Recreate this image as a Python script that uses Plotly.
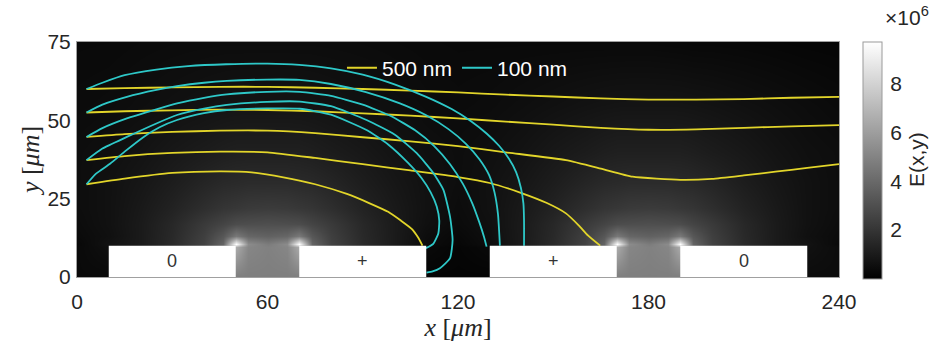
import plotly.graph_objects as go

# ---------------- data ----------------
# Electric field magnitude E(x,y) in units of 1e6
HEAT_X = [0, 10, 20, 30, 40, 46, 50, 54, 60, 66, 70, 74, 80, 90, 100, 110, 120,
          130, 140, 150, 160, 166, 170, 174, 180, 186, 190, 194, 200, 210, 220, 230, 240]
HEAT_Y = [0, 9.5, 10.5, 13, 17, 22, 30, 40, 55, 75]
E_FIELD = [
    [0.35, 0.35, 0.3, 0.3, 4.8, 4.8, 4.8, 4.8, 4.8, 4.8, 4.8, 4.8, 0.3, 0.3, 0.3, 0.15, 0.15, 0.15, 0.3, 0.3, 4.8, 4.8, 4.8, 4.8, 4.8, 4.8, 4.8, 4.8, 0.3, 0.3, 0.4, 0.45, 0.45],
    [0.35, 0.6, 1.0, 1.6, 2.5, 3.8, 6.5, 5.1, 4.9, 5.1, 6.5, 3.8, 2.5, 1.6, 1.0, 0.35, 0.2, 0.35, 1.0, 1.6, 2.5, 3.8, 6.5, 5.1, 4.9, 5.1, 6.5, 3.8, 2.5, 1.6, 1.0, 0.65, 0.45],
    [0.3, 0.7, 1.0, 1.6, 2.5, 3.8, 9.7, 5.3, 4.7, 5.3, 9.7, 3.8, 2.5, 1.6, 1.0, 0.45, 0.25, 0.5, 1.0, 1.6, 2.5, 3.8, 9.7, 5.3, 4.7, 5.3, 9.7, 3.8, 2.5, 1.6, 1.0, 0.7, 0.35],
    [0.4, 0.6, 1.0, 1.55, 2.4, 3.3, 4.6, 3.9, 3.7, 3.9, 4.6, 3.3, 2.4, 1.55, 1.0, 0.5, 0.3, 0.55, 1.0, 1.55, 2.4, 3.3, 4.6, 3.9, 3.7, 3.9, 4.6, 3.3, 2.4, 1.55, 1.0, 0.6, 0.4],
    [0.45, 0.65, 1.0, 1.5, 2.2, 2.6, 2.9, 2.95, 3.0, 2.95, 2.9, 2.6, 2.2, 1.5, 1.0, 0.6, 0.4, 0.6, 1.0, 1.5, 2.2, 2.6, 2.9, 2.95, 3.0, 2.95, 2.9, 2.6, 2.2, 1.5, 1.0, 0.65, 0.45],
    [0.5, 0.65, 0.95, 1.3, 1.75, 2.0, 2.1, 2.2, 2.25, 2.2, 2.1, 2.0, 1.75, 1.3, 0.95, 0.65, 0.45, 0.65, 0.95, 1.3, 1.75, 2.0, 2.1, 2.2, 2.25, 2.2, 2.1, 2.0, 1.75, 1.3, 0.95, 0.65, 0.5],
    [0.5, 0.65, 0.85, 1.1, 1.4, 1.55, 1.6, 1.65, 1.65, 1.65, 1.6, 1.55, 1.4, 1.1, 0.85, 0.65, 0.5, 0.65, 0.85, 1.1, 1.4, 1.55, 1.6, 1.65, 1.65, 1.65, 1.6, 1.55, 1.4, 1.1, 0.85, 0.65, 0.5],
    [0.5, 0.58, 0.72, 0.9, 1.05, 1.15, 1.2, 1.2, 1.2, 1.2, 1.2, 1.15, 1.05, 0.9, 0.72, 0.58, 0.5, 0.58, 0.72, 0.9, 1.05, 1.15, 1.2, 1.2, 1.2, 1.2, 1.2, 1.15, 1.05, 0.9, 0.72, 0.58, 0.5],
    [0.42, 0.46, 0.54, 0.62, 0.7, 0.74, 0.76, 0.77, 0.77, 0.77, 0.76, 0.74, 0.7, 0.62, 0.54, 0.46, 0.42, 0.46, 0.54, 0.62, 0.7, 0.74, 0.76, 0.77, 0.77, 0.77, 0.76, 0.74, 0.7, 0.62, 0.54, 0.46, 0.38],
    [0.35, 0.36, 0.4, 0.43, 0.45, 0.46, 0.46, 0.46, 0.46, 0.46, 0.46, 0.46, 0.45, 0.43, 0.4, 0.37, 0.35, 0.35, 0.35, 0.35, 0.35, 0.35, 0.35, 0.35, 0.35, 0.33, 0.32, 0.3, 0.3, 0.28, 0.25, 0.22, 0.2],
]

# Electrodes (x extent, height, potential label)
ELECTRODE_X0 = [10, 70, 130, 190]
ELECTRODE_X1 = [50, 110, 170, 230]
ELECTRODE_LABELS = ["0", "+", "+", "0"]
ELECTRODE_HEIGHT = 10

# Particle trajectories, 500 nm
Y500_X = [
    [3, 15, 30, 45, 60, 75, 90, 105, 120, 135, 150, 165, 180, 195, 210, 225, 240],
    [3, 15, 30, 45, 60, 75, 90, 105, 120, 135, 150, 165, 180, 195, 210, 225, 240],
    [3, 15, 30, 45, 60, 75, 90, 105, 120, 135, 154, 165, 175, 190, 200, 210, 220, 230, 240],
    [3, 15, 30, 45, 60, 75, 90, 105, 120, 130, 140, 148, 154, 158, 161, 164.8],
    [3, 15, 30, 45, 55, 65, 75, 85, 92, 98, 102, 105.5, 107.5, 108.8],
]
Y500_Y = [
    [60, 60.3, 60.5, 60.7, 60.7, 60.4, 60.0, 59.5, 58.9, 58.2, 57.6, 57.0, 56.6, 56.6, 56.8, 57.2, 57.5],
    [52.5, 52.9, 53.2, 53.4, 53.3, 52.9, 52.2, 51.5, 50.6, 49.6, 48.6, 47.6, 47.0, 47.1, 47.6, 48.1, 48.5],
    [44.7, 45.6, 46.3, 46.7, 46.7, 45.9, 44.6, 43.3, 41.8, 39.8, 37.3, 34.6, 32.0, 31.0, 31.3, 32.4, 33.6, 34.8, 36.0],
    [37.3, 38.6, 39.6, 40.0, 39.8, 38.0, 36.0, 34.0, 31.9, 30.0, 26.8, 23.6, 20.3, 16.5, 13.2, 10.0],
    [29.6, 31.4, 33.2, 33.7, 33.4, 31.8, 29.6, 26.5, 23.6, 20.8, 18.0, 15.3, 12.5, 10.0],
]

# Particle trajectories, 100 nm
C100_X = [
    [3, 8, 15, 25, 35, 47, 60, 70, 80, 90, 100, 110, 118, 124, 129, 133, 136, 138.3, 139.8, 140.6, 140.8, 140.8],
    [3, 8, 15.7, 25, 31.5, 40, 47.2, 59.8, 70, 80, 91, 101.7, 110, 117, 122.5, 126.8, 129.8, 131.5, 132.6, 133.2],
    [3, 8, 15.7, 25, 31.5, 40, 47.2, 59.8, 70.2, 80, 90, 99, 106.5, 112.5, 117.5, 121.5, 124.5, 126.7, 128.2, 129],
    [3, 8, 15.7, 25, 31.5, 40, 47.2, 59.8, 70.2, 80, 91.2, 100, 107, 112, 115.4, 117.5, 118.3, 117.5, 114.3, 112, 110.1],
    [3, 6, 10.5, 15, 21, 26, 31.5, 40, 47.2, 59.8, 70.2, 80, 91.2, 98, 104.2, 108.5, 111.4, 113.3, 114.1, 113.8, 112.2, 109.9],
]
C100_Y = [
    [60, 62, 64.4, 66.2, 67.3, 67.9, 68.1, 67.7, 66.6, 64.6, 61.5, 57.5, 53.6, 49.8, 45.8, 41.8, 37.8, 33.5, 28.5, 23.5, 18.0, 10.0],
    [52.5, 55, 57.5, 59.7, 60.9, 62.0, 62.6, 63.0, 62.9, 61.6, 59, 55.4, 51.6, 47.2, 42.5, 37.5, 32.5, 27.0, 20.0, 10.0],
    [44.7, 47.5, 50.6, 53.5, 55.4, 57.2, 58.3, 59.1, 59.1, 57.8, 55.0, 51.3, 46.8, 41.8, 36.0, 29.8, 23.5, 17.5, 12.8, 9.7],
    [37.3, 41, 44.7, 49, 51.7, 53.7, 54.9, 55.9, 56.0, 54.5, 50.1, 45.5, 39.5, 33.5, 27.8, 19.2, 11.8, 6.0, 2.8, 1.8, 1.4],
    [29.6, 33, 36.2, 40, 44.7, 47.8, 50.1, 52.3, 53.3, 53.8, 53.7, 51.8, 46.9, 42.3, 36.5, 31.6, 27.0, 22.5, 18.0, 13.9, 10.6, 9.2],
]

X_TICKS = [0, 60, 120, 180, 240]
Y_TICKS = [0, 25, 50, 75]
CB_TICKS = [2, 4, 6, 8]

# ---------------- figure ----------------
YELLOW = "#e2d52a"
CYAN = "#2ec8c8"
TXT = "#262626"
FONT = "Liberation Sans, Arial, sans-serif"
SERIF = "Liberation Serif, serif"

fig = go.Figure()

fig.add_trace(go.Heatmap(
    x=HEAT_X, y=HEAT_Y, z=E_FIELD,
    zmin=0, zmax=9.7, zsmooth="best",
    colorscale=[[0, "#000000"], [1, "#ffffff"]],
    showscale=True, hoverinfo="skip",
    colorbar=dict(
        x=1.0315, xanchor="left", xref="paper", xpad=0, ypad=0,
        y=0.496, yanchor="middle",
        lenmode="pixels", len=237,
        thicknessmode="pixels", thickness=19,
        outlinecolor="#9a9a9a", outlinewidth=1,
        tickvals=CB_TICKS, ticktext=[str(t) for t in CB_TICKS],
        ticks="outside", ticklen=4, tickcolor="rgba(0,0,0,0)",
        tickfont=dict(family=FONT, size=21, color=TXT),
    ),
))

for i, (xs, ys) in enumerate(zip(Y500_X, Y500_Y)):
    fig.add_trace(go.Scatter(
        x=xs, y=ys, mode="lines", name="500 nm", legendgroup="500",
        showlegend=(i == 0), line=dict(color=YELLOW, width=1.8, shape="spline", smoothing=0.5),
        hoverinfo="skip"))

for i, (xs, ys) in enumerate(zip(C100_X, C100_Y)):
    fig.add_trace(go.Scatter(
        x=xs, y=ys, mode="lines", name="100 nm", legendgroup="100",
        showlegend=(i == 0), line=dict(color=CYAN, width=1.8, shape="spline", smoothing=0.5),
        hoverinfo="skip"))

shapes = []
annotations = []
for x0, x1, lab in zip(ELECTRODE_X0, ELECTRODE_X1, ELECTRODE_LABELS):
    shapes.append(dict(type="rect", xref="x", yref="y", x0=x0, x1=x1, y0=0, y1=ELECTRODE_HEIGHT,
                       fillcolor="white", line=dict(width=0), layer="above"))
    annotations.append(dict(x=(x0 + x1) / 2, y=ELECTRODE_HEIGHT / 2, xref="x", yref="y",
                            text=lab, showarrow=False,
                            font=dict(family=FONT, size=18, color="#333333")))

annotations.append(dict(x=1.089, y=1.11, xref="paper", yref="paper", text="×10<sup>6</sup>",
                        xanchor="center", yanchor="middle",
                        showarrow=False, font=dict(family=FONT, size=21, color=TXT)))
annotations.append(dict(x=1.1024, y=0.498, xref="paper", yref="paper", text="E(x,y)",
                        xanchor="center", yanchor="middle",
                        textangle=-90, showarrow=False, font=dict(family=FONT, size=21, color=TXT)))

fig.update_layout(
    width=936, height=346,
    margin=dict(l=77, r=97, t=42, b=69, autoexpand=False),
    paper_bgcolor="white", plot_bgcolor="black",
    shapes=shapes, annotations=annotations,
    showlegend=True,
    legend=dict(orientation="h", x=0.4993, xanchor="center", y=0.889, yanchor="middle",
                bgcolor="rgba(0,0,0,0)", borderwidth=0,
                font=dict(family=FONT, size=21, color="white"),
                itemwidth=30, tracegroupgap=0),
    xaxis=dict(range=[0, 240], tickvals=X_TICKS, ticktext=[str(t) for t in X_TICKS],
               showgrid=False, zeroline=False, showline=True, mirror=True,
               linecolor="#a0a0a0", linewidth=1, ticks="", ticklabelstandoff=6,
               tickfont=dict(family=FONT, size=21, color=TXT),
               title=dict(text="<i>x</i> [<i>μm</i>]", standoff=0,
                          font=dict(family=SERIF, size=26, color=TXT))),
    yaxis=dict(range=[0, 75], tickvals=Y_TICKS, ticktext=[str(t) for t in Y_TICKS],
               showgrid=False, zeroline=False, showline=True, mirror=True,
               linecolor="#a0a0a0", linewidth=1, ticks="", ticklabelstandoff=1,
               tickfont=dict(family=FONT, size=21, color=TXT),
               title=dict(text="<i>y</i> [<i>μm</i>]", standoff=0,
                          font=dict(family=SERIF, size=26, color=TXT))),
)

fig.write_html("out.html", config={"displayModeBar": False},
               post_script="document.body.style.margin='0px';document.body.style.padding='0px';")
